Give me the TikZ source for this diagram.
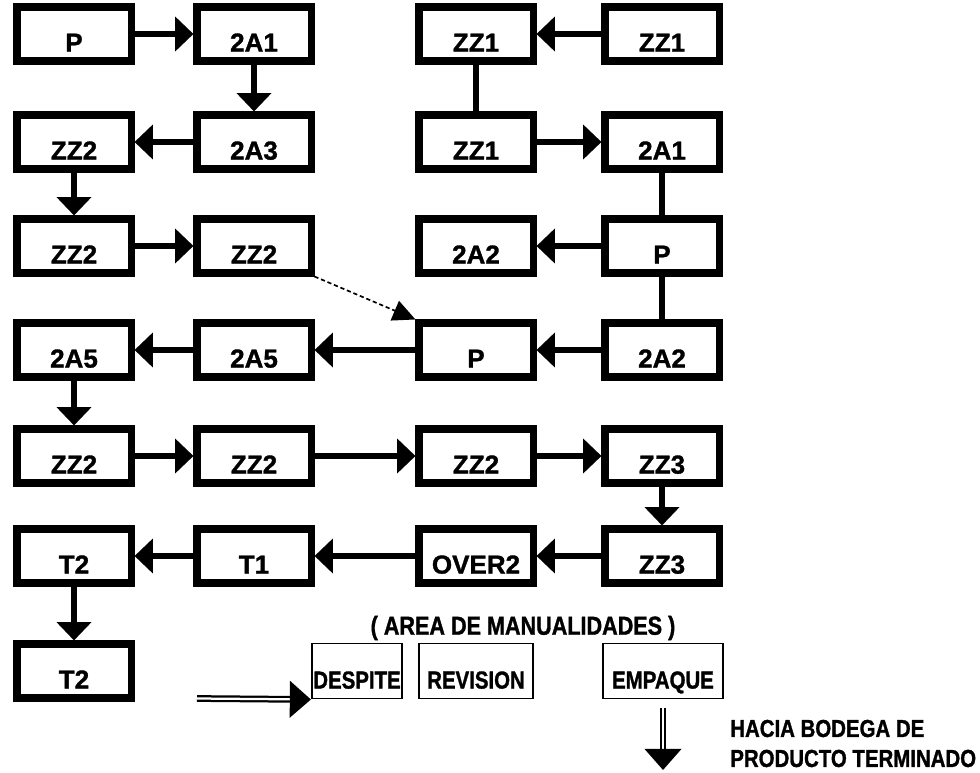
\documentclass[tikz,border=0pt]{standalone}
\usepackage{fontspec}
\setmainfont{Liberation Sans}[BoldFeatures={FakeBold=1.2}]
\newfontfamily\narrowfont{Liberation Sans}[FakeStretch=0.83, BoldFeatures={FakeBold=1.2}]
\usetikzlibrary{arrows.meta}

\begin{document}
\begin{tikzpicture}[x=0.025cm, y=-0.025cm,
    box/.style={draw, line width=5pt, minimum width=2.85cm, minimum height=1.35cm,
        inner sep=2pt, text height=25pt, text depth=0pt,
        font=\fontsize{18.5}{20}\selectfont\bfseries},
    areabox/.style={draw, line width=1.4pt, minimum height=1.375cm, inner sep=1pt,
        text height=25pt, text depth=0pt,
        font=\fontsize{17.5}{20}\selectfont\narrowfont\bfseries},
    flow/.style={line width=4.5pt, -{Triangle[length=13pt,width=24pt]}},
    link/.style={line width=4.5pt},
    hint/.style={line width=1.2pt, densely dashed, -{Triangle[length=16pt,width=15pt]}},
    dblflow/.style={double, double distance=1.6pt, line width=1.6pt,
        -{Triangle[length=15pt,width=26pt]}}]
    \useasboundingbox (0,0) rectangle (980,773);

    % rows 1-7
    \node[box] (p1)   at (74,34)  {P};
    \node[box] (a21)  at (254,34) {2A1};
    \node[box] (zz1a) at (476,34) {ZZ1};
    \node[box] (zz1b) at (662,34) {ZZ1};

    \node[box] (zz2a) at (74,142)  {ZZ2};
    \node[box] (a23)  at (254,142) {2A3};
    \node[box] (zz1c) at (476,142) {ZZ1};
    \node[box] (a21b) at (662,142) {2A1};

    \node[box] (zz2b) at (74,246)  {ZZ2};
    \node[box] (zz2c) at (254,246) {ZZ2};
    \node[box] (a22)  at (476,246) {2A2};
    \node[box] (p2)   at (662,246) {P};

    \node[box] (a25a) at (74,350)  {2A5};
    \node[box] (a25b) at (254,350) {2A5};
    \node[box] (p3)   at (476,350) {P};
    \node[box] (a22b) at (662,350) {2A2};

    \node[box] (zz2d) at (74,456)  {ZZ2};
    \node[box] (zz2e) at (254,456) {ZZ2};
    \node[box] (zz2f) at (476,456) {ZZ2};
    \node[box] (zz3a) at (662,456) {ZZ3};

    \node[box] (t2a)   at (74,556)  {T2};
    \node[box] (t1)    at (254,556) {T1};
    \node[box] (over2) at (476,556) {OVER2};
    \node[box] (zz3b)  at (662,556) {ZZ3};

    \node[box] (t2b) at (74,671) {T2};

    % left chain
    \draw[flow] (p1) -- (a21);
    \draw[flow] (a21) -- (a23);
    \draw[flow] (a23) -- (zz2a);
    \draw[flow] (zz2a) -- (zz2b);
    \draw[flow] (zz2b) -- (zz2c);
    \draw[hint] (zz2c.south east) -- (p3.north west);

    % right chain
    \draw[flow] (zz1b) -- (zz1a);
    \draw[link] (zz1a) -- (zz1c);
    \draw[flow] (zz1c) -- (a21b);
    \draw[link] (a21b) -- (p2);
    \draw[flow] (p2) -- (a22);
    \draw[link] (p2) -- (a22b);
    \draw[flow] (a22b) -- (p3);

    \draw[flow] (p3) -- (a25b);
    \draw[flow] (a25b) -- (a25a);
    \draw[flow] (a25a) -- (zz2d);
    \draw[flow] (zz2d) -- (zz2e);
    \draw[flow] (zz2e) -- (zz2f);
    \draw[flow] (zz2f) -- (zz3a);
    \draw[flow] (zz3a) -- (zz3b);
    \draw[flow] (zz3b) -- (over2);
    \draw[flow] (over2) -- (t1);
    \draw[flow] (t1) -- (t2a);
    \draw[flow] (t2a) -- (t2b);

    % area de manualidades
    \node[font=\fontsize{18.5}{20}\selectfont\narrowfont\bfseries] (area) at (523,628) {( AREA DE MANUALIDADES )};
    \node[areabox, minimum width=2.25cm] (despite)  at (357,671) {DESPITE};
    \node[areabox, minimum width=2.85cm] (revision) at (476,671) {REVISION};
    \node[areabox, minimum width=3cm]    (empaque)  at (663,671) {EMPAQUE};

    \coordinate (entry) at (197,698.5);
    \coordinate (bodega) at (663,770);
    \draw[dblflow] (entry) -- (despite.south west);
    \draw[dblflow, shorten <=6pt] (empaque) -- (bodega);

    \node[anchor=west, align=left, inner sep=0pt,
        font=\fontsize{17.5}{21.3}\selectfont\narrowfont\bfseries] (hacia) at (730,743.5)
        {HACIA BODEGA DE\\PRODUCTO TERMINADO};
\end{tikzpicture}
\end{document}
